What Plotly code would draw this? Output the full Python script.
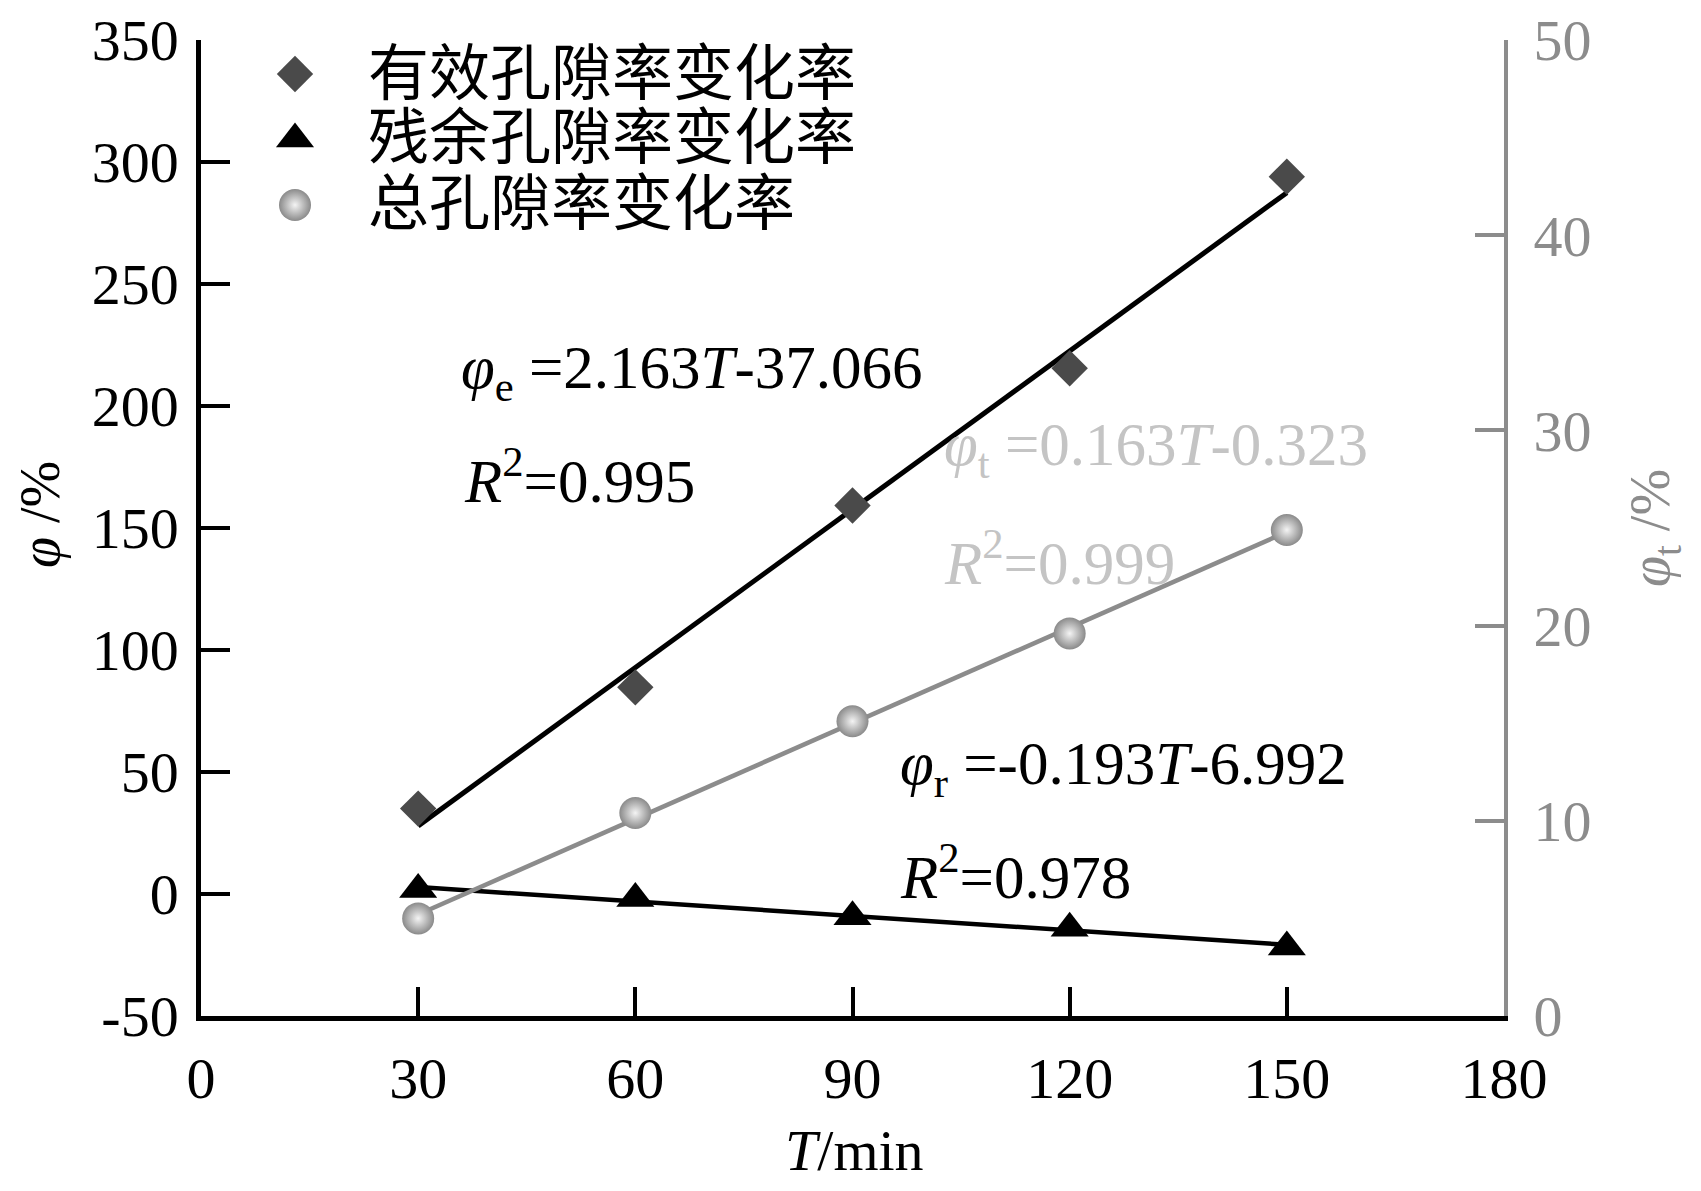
import numpy as np
import plotly.graph_objects as go

# ---- data ----
T = [30, 60, 90, 120, 150]
phi_e = [35.0, 84.7, 159.2, 215.5, 294.0]     # 有效孔隙率变化率 (left axis)
phi_r = [1.8, -1.8, -9.3, -14.0, -21.7]       # 残余孔隙率变化率 (left axis)
phi_t = [5.0, 10.4, 15.1, 19.6, 24.9]         # 总孔隙率变化率 (right axis)
x_ticks = [0, 30, 60, 90, 120, 150, 180]
y_ticks = [-50, 0, 50, 100, 150, 200, 250, 300, 350]
y_ticktext = ["-50", "0", "50", "100", "150", "200", "250", "300", "350"]
y2_ticks = [0, 10, 20, 30, 40, 50]
names = ["有效孔隙率变化率", "残余孔隙率变化率", "总孔隙率变化率"]

# page body has an 8px default margin, so the figure is drawn 8px smaller and shifted
OFF = 8
W, H = 1701 - OFF, 1191 - OFF
L, R, TOP, BOT = 201 - OFF, 1504 - OFF, 40 - OFF, 1016 - OFF
FONT = "Liberation Serif, Noto Sans CJK SC, serif"
GRAY = "#8c8c8c"
LIGHT = "#c4c4c4"

def px(x):
    return (x - OFF - L) / (R - L)

def py(y):
    return (BOT - (y - OFF)) / (BOT - TOP)

Tarr = np.array(T, dtype=float)
fit_e = np.polyval(np.polyfit(Tarr, phi_e, 1), Tarr)
fit_r = np.polyval(np.polyfit(Tarr, phi_r, 1), Tarr)
fit_t = np.polyval(np.polyfit(Tarr, phi_t, 1), Tarr)

fig = go.Figure()

# fitted lines
fig.add_trace(go.Scatter(x=T, y=fit_e, mode="lines", line=dict(color="black", width=5), showlegend=False))
fig.add_trace(go.Scatter(x=T, y=fit_r, mode="lines", line=dict(color="black", width=4.5), showlegend=False))
fig.add_trace(go.Scatter(x=T, y=fit_t, mode="lines", line=dict(color=GRAY, width=4.5),
                         yaxis="y2", showlegend=False))

sym_e = dict(symbol="diamond", size=28, color="#4a4a4a")
sym_r = dict(symbol="triangle-up", size=33, color="black")
sym_t = dict(symbol="circle", size=32, color="#8a8a8a",
             gradient=dict(type="radial", color="#f4f4f4"))

fig.add_trace(go.Scatter(x=T, y=phi_e, mode="markers", marker=sym_e, name=names[0], showlegend=False))
fig.add_trace(go.Scatter(x=T, y=phi_r, mode="markers", marker=sym_r, name=names[1], showlegend=False))
fig.add_trace(go.Scatter(x=T, y=phi_t, mode="markers", marker=sym_t, name=names[2], yaxis="y2", showlegend=False))

# legend glyphs on a hidden full-paper overlay subplot
leg_x = px(295)
leg_ys = [py(74), py(139), py(205)]
for sym, ly in zip([sym_e, sym_r, sym_t], leg_ys):
    fig.add_trace(go.Scatter(x=[leg_x], y=[ly], mode="markers", marker=sym,
                             xaxis="x3", yaxis="y3", showlegend=False, hoverinfo="skip"))

annots = []
for nm, ly in zip(names, [py(74), py(139), py(204)]):
    annots.append(dict(x=px(366), y=ly, xref="paper", yref="paper", text=nm, showarrow=False,
                       xanchor="left", yanchor="middle", font=dict(family=FONT, size=61, color="black")))

def eq(x, y, text, color):
    annots.append(dict(x=px(x), y=py(y), xref="paper", yref="paper", text=text, showarrow=False,
                       xanchor="left", yanchor="middle", font=dict(family=FONT, size=61, color=color)))

eq(459, 372, "<i>φ</i><sub>e</sub> =2.163<i>T</i>-37.066", "black")
eq(462, 476, "<i>R</i><sup>2</sup>=0.995", "black")
eq(942, 449, "<i>φ</i><sub>t</sub> =0.163<i>T</i>-0.323", LIGHT)
eq(942, 558, "<i>R</i><sup>2</sup>=0.999", LIGHT)
eq(898, 768, "<i>φ</i><sub>r</sub> =-0.193<i>T</i>-6.992", "black")
eq(898, 872, "<i>R</i><sup>2</sup>=0.978", "black")

# axis titles
annots.append(dict(x=px(40), y=py(515), xref="paper", yref="paper", text="<i>φ</i> /%", showarrow=False,
                   textangle=-90, xanchor="center", yanchor="middle",
                   font=dict(family=FONT, size=56, color="black")))
annots.append(dict(x=px(1654), y=py(528), xref="paper", yref="paper", text="<i>φ</i><sub>t</sub> /%",
                   showarrow=False, textangle=-90, xanchor="center", yanchor="middle",
                   font=dict(family=FONT, size=56, color=GRAY)))
annots.append(dict(x=px(855), y=py(1150), xref="paper", yref="paper", text="<i>T</i>/min", showarrow=False,
                   xanchor="center", yanchor="middle", font=dict(family=FONT, size=58, color="black")))

fig.update_layout(
    width=W, height=H,
    margin=dict(l=L, r=W - R, t=TOP, b=H - BOT, autoexpand=False),
    paper_bgcolor="white", plot_bgcolor="rgba(0,0,0,0)",
    showlegend=False,
    font=dict(family=FONT, size=58, color="black"),
    xaxis=dict(range=[0, 180], tickvals=x_ticks, ticks="inside", ticklen=29, tickwidth=4,
               tickcolor="black", showline=True, linecolor="black", linewidth=4.5,
               showgrid=False, zeroline=False, ticklabelstandoff=8, automargin=False,
               tickfont=dict(family=FONT, size=58, color="black")),
    yaxis=dict(range=[-50, 350], tickvals=y_ticks, ticktext=y_ticktext, ticks="inside", ticklen=29,
               tickwidth=4, tickcolor="black", showline=True, linecolor="black", linewidth=4.5,
               showgrid=False, zeroline=False, ticklabelstandoff=6, automargin=False,
               tickfont=dict(family=FONT, size=58, color="black")),
    yaxis2=dict(range=[0, 50], tickvals=y2_ticks, overlaying="y", side="right", ticks="inside",
                ticklen=29, tickwidth=4, tickcolor=GRAY, showline=True, linecolor=GRAY, linewidth=4,
                showgrid=False, zeroline=False, ticklabelstandoff=14, automargin=False,
                tickfont=dict(family=FONT, size=58, color=GRAY)),
    xaxis3=dict(domain=[0, 1], range=[0, 1], anchor="y3", visible=False, fixedrange=True),
    yaxis3=dict(domain=[0, 1], range=[0, 1], anchor="x3", visible=False, fixedrange=True),
    annotations=annots,
)

fig.write_html("out.html")
